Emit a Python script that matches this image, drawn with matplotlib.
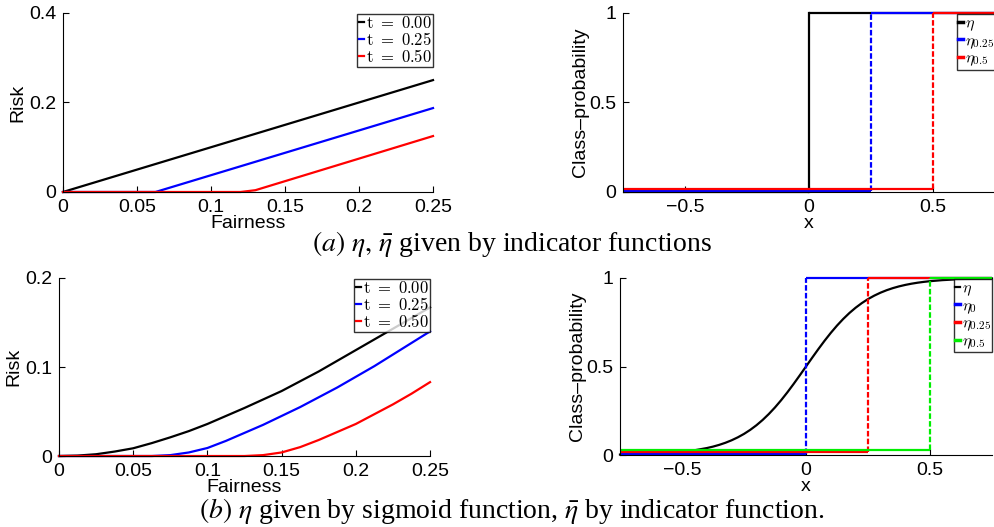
import matplotlib
matplotlib.use("Agg")
import matplotlib.pyplot as plt

plt.rcParams['font.family'] = ['Liberation Sans', 'DejaVu Sans']
plt.rcParams['mathtext.fontset'] = 'cm'

# (a) risk vs fairness, indicator eta
fa_black_x = [0, 0.25]
fa_black_y = [0, 0.25]
fa_blue_x = [0, 0.0625, 0.25]
fa_blue_y = [0, 0, 0.1875]
fa_red_x = [0, 0.12, 0.13, 0.25]
fa_red_y = [0, 0, 0.004, 0.125]

# (a) class probabilities (steps)
ca_eta_x = [-0.75, 0, 0, 0.75]
ca_eta_y = [0, 0, 1, 1]
ca_e25_x = [-0.75, 0.25, 0.25, 0.75]
ca_e25_y = [0.005, 0.005, 1, 1]
ca_e50_x = [-0.75, 0.5, 0.5, 0.75]
ca_e50_y = [0.018, 0.018, 1, 1]

# (b) risk vs fairness, sigmoid eta
fb_black_x = [0, 0.0125, 0.025, 0.0375, 0.05, 0.0625, 0.075, 0.0875, 0.1, 0.1125,
              0.125, 0.1375, 0.15, 0.1625, 0.175, 0.1875, 0.2, 0.2125, 0.225, 0.2375, 0.25]
fb_black_y = [0, 0.0005, 0.002, 0.005, 0.0087, 0.0145, 0.021, 0.028, 0.036, 0.045,
              0.054, 0.0635, 0.073, 0.084, 0.095, 0.107, 0.119, 0.131, 0.143, 0.155, 0.167]
fb_blue_x = [0, 0.0625, 0.075, 0.0875, 0.1, 0.1125, 0.125, 0.1375, 0.15, 0.1625,
             0.175, 0.1875, 0.2, 0.2125, 0.225, 0.2375, 0.25]
fb_blue_y = [0, 0, 0.001, 0.004, 0.009, 0.017, 0.026, 0.035, 0.045, 0.055,
             0.066, 0.077, 0.089, 0.101, 0.114, 0.127, 0.14]
fb_red_x = [0, 0.125, 0.1375, 0.15, 0.1625, 0.175, 0.1875, 0.2, 0.2125, 0.225, 0.2375, 0.25]
fb_red_y = [0, 0, 0.001, 0.004, 0.010, 0.018, 0.027, 0.036, 0.047, 0.058, 0.070, 0.083]

# (b) class probabilities
sig_x = [-0.75, -0.7, -0.65, -0.6, -0.55, -0.5, -0.45, -0.4, -0.375, -0.35, -0.325,
         -0.3, -0.275, -0.25, -0.225, -0.2, -0.175, -0.15, -0.125, -0.1, -0.075,
         -0.05, -0.025, 0, 0.025, 0.05, 0.075, 0.1, 0.125, 0.15, 0.175, 0.2, 0.225,
         0.25, 0.275, 0.3, 0.325, 0.35, 0.375, 0.4, 0.425, 0.45, 0.475, 0.5, 0.55,
         0.6, 0.65, 0.7, 0.75]
sig_y = [0.0025, 0.0037, 0.0055, 0.0082, 0.0121, 0.018, 0.0266, 0.0392, 0.0474,
         0.0573, 0.0691, 0.0832, 0.0998, 0.1192, 0.1419, 0.168, 0.1978, 0.2315,
         0.2689, 0.31, 0.3543, 0.4013, 0.4502, 0.5, 0.5498, 0.5987, 0.6457, 0.69,
         0.7311, 0.7685, 0.8022, 0.832, 0.8581, 0.8808, 0.9002, 0.9168, 0.9309,
         0.9427, 0.9526, 0.9608, 0.9677, 0.9734, 0.9781, 0.982, 0.9879, 0.9918,
         0.9945, 0.9963, 0.9975]
cb_e0_x = [-0.75, 0, 0, 0.75]
cb_e0_y = [0.004, 0.004, 1, 1]
cb_e25_x = [-0.75, 0.25, 0.25, 0.75]
cb_e25_y = [0.015, 0.015, 1, 1]
cb_e50_x = [-0.75, 0.5, 0.5, 0.75]
cb_e50_y = [0.028, 0.028, 1, 1]

t_labels = [r'$\mathrm{t\ =\ 0.00}$', r'$\mathrm{t\ =\ 0.25}$', r'$\mathrm{t\ =\ 0.50}$']
fair_ticks = [0, 0.05, 0.1, 0.15, 0.2, 0.25]
fair_ticklabels = ['0', '0.05', '0.1', '0.15', '0.2', '0.25']
x_ticks = [-0.5, 0, 0.5]
x_ticklabels = ['\u22120.5', '0', '0.5']
p_ticks = [0, 0.5, 1]
p_ticklabels = ['0', '0.5', '1']

LW = 1.6
FS = 14

fig = plt.figure(figsize=(9.95, 5.27), dpi=100)
ax1 = fig.add_axes([0.0633, 0.6357, 0.3719, 0.3397])
ax2 = fig.add_axes([0.6261, 0.6357, 0.3739, 0.3397])
ax3 = fig.add_axes([0.0593, 0.1347, 0.3729, 0.3378])
ax4 = fig.add_axes([0.6231, 0.1366, 0.3739, 0.3359])


def style(ax):
    ax.spines['top'].set_visible(False)
    ax.spines['right'].set_visible(False)
    ax.tick_params(direction='in', length=4, labelsize=FS, pad=5)


def legend(ax, fs=12):
    lg = ax.legend(loc='upper right', bbox_to_anchor=(1.0, 0.995), frameon=True,
                   fancybox=False, fontsize=fs, handlelength=0.3,
                   handletextpad=0.12, borderpad=0.08, labelspacing=0.0,
                   borderaxespad=0.0)
    lg.get_frame().set_edgecolor('black')
    lg.get_frame().set_linewidth(1.0)
    return lg


def step(ax, xs, ys, color, label, solid_vertical=False):
    ax.plot(xs[:2], ys[:2], color=color, lw=LW, solid_capstyle='butt')
    ax.plot(xs[2:], ys[2:], color=color, lw=LW, solid_capstyle='butt')
    if solid_vertical:
        ax.plot(xs[1:3], ys[1:3], color=color, lw=LW)
    else:
        ax.plot(xs[1:3], ys[1:3], color=color, lw=LW, dashes=(2.5, 1))
    ax.plot([], [], color=color, lw=2.5, label=label)


# top-left
ax1.plot(fa_black_x, fa_black_y, color='black', lw=LW, label=t_labels[0])
ax1.plot(fa_blue_x, fa_blue_y, color='blue', lw=LW, label=t_labels[1])
ax1.plot(fa_red_x, fa_red_y, color='red', lw=LW, label=t_labels[2])
ax1.set_xlim(0, 0.25)
ax1.set_ylim(0, 0.4)
ax1.set_xticks(fair_ticks, fair_ticklabels)
ax1.set_yticks([0, 0.2, 0.4], ['0', '0.2', '0.4'])
ax1.set_xlabel('Fairness', fontsize=FS, labelpad=-1)
ax1.set_ylabel('Risk', fontsize=FS, labelpad=2)
style(ax1)
for h in ax1.get_lines():
    h.set_clip_on(False)
legend(ax1)

# top-right
step(ax2, ca_eta_x, ca_eta_y, 'black', r'$\eta$', solid_vertical=True)
step(ax2, ca_e25_x, ca_e25_y, 'blue', r'$\eta_{0.25}$')
step(ax2, ca_e50_x, ca_e50_y, 'red', r'$\eta_{0.5}$')
ax2.set_xlim(-0.75, 0.75)
ax2.set_ylim(0, 1)
ax2.set_xticks(x_ticks, x_ticklabels)
ax2.set_yticks(p_ticks, p_ticklabels)
ax2.set_xlabel('x', fontsize=FS, labelpad=-1)
ax2.set_ylabel('Class\u2013probability', fontsize=FS, labelpad=0)
style(ax2)
for h in ax2.get_lines():
    h.set_clip_on(False)
legend(ax2, fs=11.5)

# bottom-left
ax3.plot(fb_black_x, fb_black_y, color='black', lw=LW, label=t_labels[0])
ax3.plot(fb_blue_x, fb_blue_y, color='blue', lw=LW, label=t_labels[1])
ax3.plot(fb_red_x, fb_red_y, color='red', lw=LW, label=t_labels[2])
ax3.set_xlim(0, 0.25)
ax3.set_ylim(0, 0.2)
ax3.set_xticks(fair_ticks, fair_ticklabels)
ax3.set_yticks([0, 0.1, 0.2], ['0', '0.1', '0.2'])
ax3.set_xlabel('Fairness', fontsize=FS, labelpad=-1)
ax3.set_ylabel('Risk', fontsize=FS, labelpad=2)
style(ax3)
for h in ax3.get_lines():
    h.set_clip_on(False)
legend(ax3)

# bottom-right
ax4.plot(sig_x, sig_y, color='black', lw=LW, label=r'$\eta$')
step(ax4, cb_e0_x, cb_e0_y, 'blue', r'$\eta_0$')
step(ax4, cb_e25_x, cb_e25_y, 'red', r'$\eta_{0.25}$')
step(ax4, cb_e50_x, cb_e50_y, '#00ee00', r'$\eta_{0.5}$')
ax4.set_xlim(-0.75, 0.75)
ax4.set_ylim(0, 1)
ax4.set_xticks(x_ticks, x_ticklabels)
ax4.set_yticks(p_ticks, p_ticklabels)
ax4.set_xlabel('x', fontsize=FS, labelpad=-1)
ax4.set_ylabel('Class\u2013probability', fontsize=FS, labelpad=0)
style(ax4)
for h in ax4.get_lines():
    h.set_clip_on(False)
legend(ax4, fs=11.5)

# captions
cap_kw = dict(ha='center', va='baseline', fontsize=20,
              family=['Liberation Serif', 'DejaVu Serif'], math_fontfamily='stix')
fig.text(512 / 995, 1 - 251 / 527,
         r'$(a)$ $\eta,\, \bar{\eta}$ given by indicator functions', **cap_kw)
fig.text(512 / 995, 1 - 518 / 527,
         r'$(b)$ $\eta$ given by sigmoid function, $\bar{\eta}$ by indicator function.',
         **cap_kw)

fig.savefig('out.png', dpi=100)
